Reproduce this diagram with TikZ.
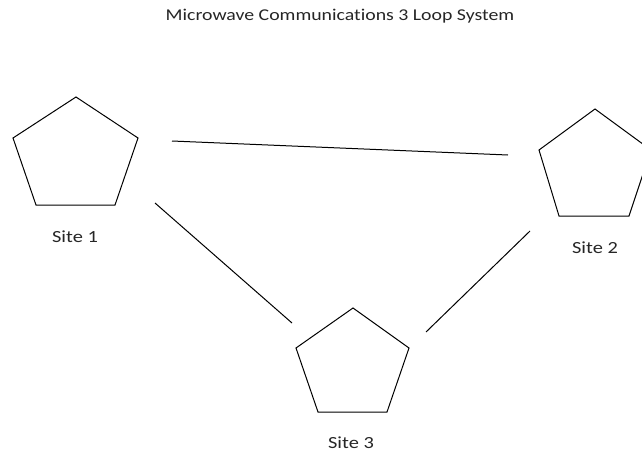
\documentclass[tikz,border=0pt]{standalone}
\usepackage{graphicx}
\usepackage{fontspec}
\setmainfont{Carlito}[RawFeature=-liga]
\newcommand{\widetxt}[1]{\scalebox{1.2}[1]{#1}}
\tikzset{
  site/.style={draw=black, line width=1pt, line join=miter},
  link/.style={draw=black, line width=1pt},
  lbl/.style={inner sep=0pt, font=\fontsize{17}{20}\selectfont, text=black!85},
  ttl/.style={inner sep=0pt, font=\fontsize{16.5}{20}\selectfont, text=black!85}
}
\begin{document}
\begin{tikzpicture}[x=1pt,y=-1pt]
\useasboundingbox (0,0) rectangle (642,452);
\clip (0,0) rectangle (642,452);
\fill[white] (0,0) rectangle (642,452);
\node[ttl] (title) at (340,16) {\widetxt{Microwave Communications 3 Loop System}};
% Site 1
\draw[site] (76,97) -- (138,138) -- (115,205) -- (36,205) -- (13,138) -- cycle;
\node[lbl] (s1) at (75,237) {\widetxt{Site 1}};
% Site 2
\draw[site] (595,109) -- (651,150) -- (629,216) -- (559,216) -- (539,150) -- cycle;
\node[lbl] (s2) at (595,248) {\widetxt{Site 2}};
% Site 3
\draw[site] (353,308) -- (409,348) -- (387,412) -- (318,412) -- (296,348) -- cycle;
\node[lbl] (s3) at (351,443) {\widetxt{Site 3}};
% connector ends
\coordinate (a1) at (172,141);
\coordinate (a2) at (508,155);
\coordinate (b1) at (155,203);
\coordinate (b2) at (292,323);
\coordinate (c1) at (530,231);
\coordinate (c2) at (426,332);
\draw[link] (a1) -- (a2);
\draw[link] (b1) -- (b2);
\draw[link] (c1) -- (c2);
\end{tikzpicture}
\end{document}
